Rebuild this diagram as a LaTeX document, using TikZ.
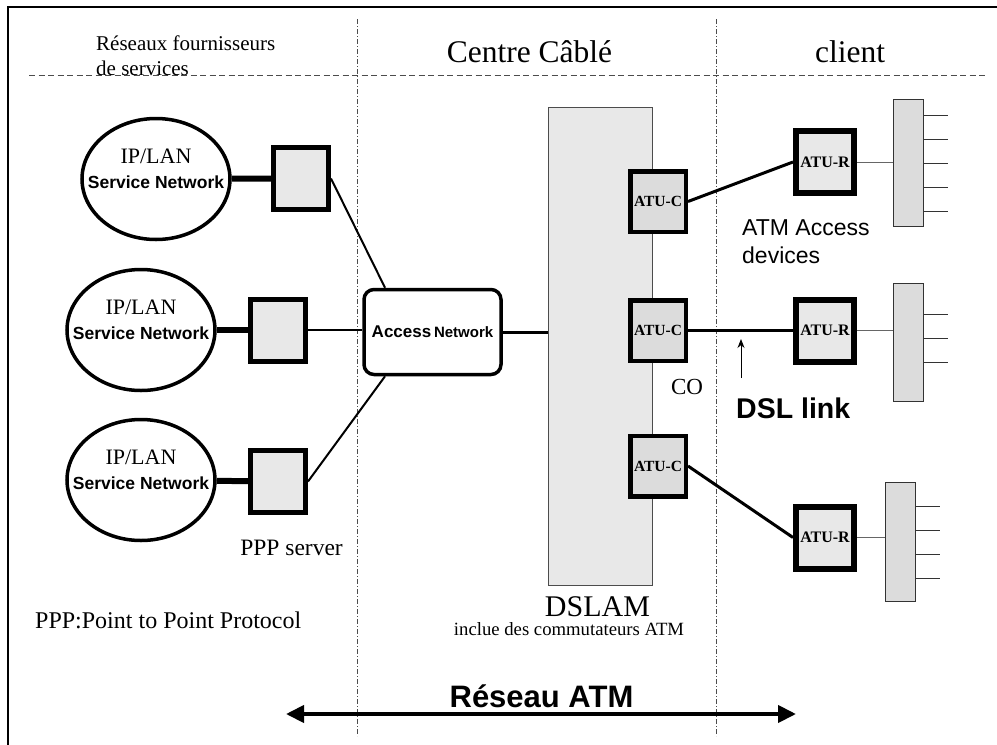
\documentclass[tikz,border=0pt]{standalone}
\usepackage{fontspec}
\setmainfont{Liberation Serif}
\setsansfont{Liberation Sans}
\usetikzlibrary{arrows.meta,shapes,positioning}
\definecolor{boxgry}{HTML}{E8E8E8}
\definecolor{atugry}{HTML}{DCDCDC}
\tikzset{
    title/.style={draw=none, inner sep=0pt},
    netell/.style={ellipse,draw,line width=3.5pt,minimum width=148pt,minimum height=121pt,inner sep=0pt},
    netlbl/.style={title,align=center,font=\fontsize{22}{25}\selectfont},
    srvsq/.style={draw,line width=5pt,fill=boxgry,minimum width=55pt,minimum height=62pt,inner sep=0pt},
    accrnd/.style={draw,rounded corners=10pt,line width=3.5pt,fill=white,minimum width=137pt,minimum height=85pt,inner sep=0pt,font=\sffamily\bfseries},
    dslrec/.style={draw=black!70,fill=boxgry,line width=1pt,minimum width=104pt,minimum height=478pt,inner sep=0pt},
    atuc/.style={draw,line width=4.5pt,fill=atugry,minimum width=55.5pt,minimum height=60.5pt,inner sep=0pt,font=\fontsize{15.5}{16}\selectfont\bfseries},
    atur/.style={draw,line width=6pt,fill=boxgry,minimum width=58pt,minimum height=62pt,inner sep=0pt,font=\fontsize{16}{16}\selectfont\bfseries},
    clibar/.style={draw=black!80,fill=atugry,line width=1pt,minimum width=30pt,inner sep=0pt},
    thkline/.style={line width=6pt},
    lnkline/.style={line width=3pt},
    line/.style={line width=2pt},
    thinline/.style={draw=black!60,line width=1pt},
    stub/.style={draw=black!80,line width=1pt},
    dashsep/.style={draw=black!70,line width=0.8pt,dash pattern=on 6pt off 3.5pt},
    dotsep/.style={draw=black!70,line width=0.6pt,dash pattern=on 5pt off 2pt on 1pt off 2pt},
    frameline/.style={line width=2.5pt},
    arrowfwd/.style={line width=1pt,-{Stealth[length=9pt,width=7pt]}},
    arrowboth/.style={line width=4pt,{Triangle[length=18pt,width=17pt]}-{Triangle[length=18pt,width=17pt]}}
}

\begin{document}
\begin{tikzpicture}[x=1pt,y=-1pt]
        \useasboundingbox (0,0) rectangle (997,745);
        \draw[frameline] (997,7) -- (8,7) -- (8,745);
        \draw[dashsep] (29,75) -- (988,75);
        \draw[dotsep] (357,19) -- (357,736);
        \draw[dotsep] (716,19) -- (716,736);

        \node[title,anchor=north west,align=left,font=\fontsize{21}{25}\selectfont] (prov) at (96,36) {Réseaux fournisseurs\\de services};
        \node[title,anchor=base,font=\fontsize{31.5}{32}\selectfont] (ctr) at (529.5,62) {Centre Câblé};
        \node[title,anchor=base,font=\fontsize{31.5}{32}\selectfont] (cli) at (850,62) {client};

        \node[netell] (net1) at (156,179) {};
        \node[netell] (net2) at (141,330) {};
        \node[netell] (net3) at (141,480) {};
        \node[netlbl] (lbl1) at ([yshift=10pt]net1.center) {IP/LAN\\{\sffamily\bfseries\fontsize{17.5}{20}\selectfont Service Network}};
        \node[netlbl] (lbl2) at ([yshift=10pt]net2.center) {IP/LAN\\{\sffamily\bfseries\fontsize{17.5}{20}\selectfont Service Network}};
        \node[netlbl] (lbl3) at ([yshift=10pt]net3.center) {IP/LAN\\{\sffamily\bfseries\fontsize{17.5}{20}\selectfont Service Network}};

        \node[srvsq] (sq1) at (301,178.5) {};
        \node[srvsq] (sq2) at (278,330) {};
        \node[srvsq] (sq3) at (278,481.5) {};
        \node[accrnd] (acc) at (432.5,332) {{\fontsize{17}{17}\selectfont Access} {\fontsize{15}{15}\selectfont Network}};

        \node[dslrec] (dslam) at (600.5,346.5) {};
        \node[atuc] (atuc1) at (658,201.5) {ATU-C};
        \node[atuc] (atuc2) at (658,330.5) {ATU-C};
        \node[atuc] (atuc3) at (658,466) {ATU-C};

        \node[atur] (atur1) at (825,162) {ATU-R};
        \node[atur] (atur2) at (825,330.5) {ATU-R};
        \node[atur] (atur3) at (825,537.5) {ATU-R};
        \node[clibar,minimum height=127pt] (bar1) at (908.5,163) {};
        \node[clibar,minimum height=118pt] (bar2) at (908.5,342.5) {};
        \node[clibar,minimum height=119pt] (bar3) at (900.5,542) {};

        \node[title,anchor=north west,align=left,font=\sffamily\fontsize{23}{28}\selectfont] (atmdev) at (742,219) {ATM Access\\devices};
        \node[title,anchor=base,font=\fontsize{23}{23}\selectfont] (co) at (687,394) {CO};
        \node[title,anchor=base west,font=\sffamily\bfseries\fontsize{28.5}{30}\selectfont] (dsl) at (736,418) {DSL link};
        \node[title,anchor=base east,font=\fontsize{23.5}{24}\selectfont] (pppsrv) at (343,555) {PPP server};
        \node[title,anchor=base west,font=\fontsize{24}{24}\selectfont] (pppdef) at (35,628) {PPP:Point to Point Protocol};
        \node[title,anchor=base,font=\fontsize{30}{30}\selectfont] (dslamlbl) at (597.5,616) {DSLAM};
        \node[title,anchor=base,font=\fontsize{18.7}{19}\selectfont] (incl) at (569,635) {inclue des commutateurs ATM};
        \node[title,anchor=base,font=\sffamily\bfseries\fontsize{31}{31}\selectfont] (resatm) at (541.5,707) {Réseau ATM};

        \coordinate (dsltail) at (741,378);
        \coordinate (dsltip) at (741,339);
        \coordinate (atml) at (286,714);
        \coordinate (atmr) at (796,714);

        \begin{scope}
            \draw[thkline] (net1) -- (sq1);
            \draw[thkline] (net2) -- (sq2);
            \draw[thkline] (net3) -- (sq3);
            \draw[line] (sq1.east) -- (acc.137);
            \draw[line] (sq2.east) -- (sq2.east -| acc.west);
            \draw[line] (sq3.east) -- (acc.223);
            \draw[lnkline] (acc.east) -- (acc.east -| dslam.west);
            \draw[lnkline] (atuc1.east) -- (atur1.west);
            \draw[lnkline] (atuc2.east) -- (atuc2.east -| atur2.west);
            \draw[lnkline] (atuc3.east) -- (atur3.west);
            \draw[thinline] (atur1.east) -- (atur1.east -| bar1.west);
            \draw[thinline] (atur2.east) -- (atur2.east -| bar2.west);
            \draw[thinline] (atur3.east) -- (atur3.east -| bar3.west);
            \foreach \d in {48,24,0,-24,-48} \draw[stub] ([yshift=\d pt]bar1.east) -- ++(24,0);
            \foreach \d in {28.5,4.5,-19.5} \draw[stub] ([yshift=\d pt]bar2.east) -- ++(24,0);
            \foreach \d in {36,12,-12,-36} \draw[stub] ([yshift=\d pt]bar3.east) -- ++(24,0);
            \draw[arrowfwd] (dsltail) -- (dsltip);
            \draw[arrowboth] (atml) -- (atmr);
        \end{scope}
    \end{tikzpicture}
\end{document}
